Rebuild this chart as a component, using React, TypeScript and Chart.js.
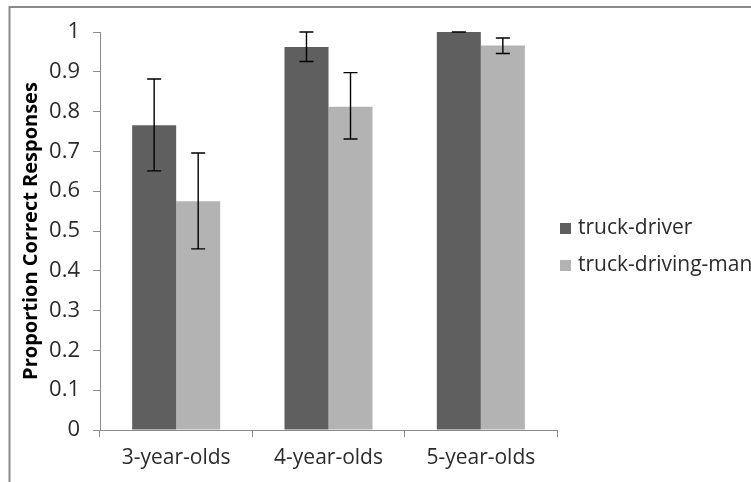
import React, { useEffect, useRef } from "react";
import { Chart, registerables } from "chart.js";

Chart.register(...registerables);

const categories = ["3-year-olds", "4-year-olds", "5-year-olds"];
const seriesNames = ["truck-driver", "truck-driving-man"];
const driverValues = [0.766, 0.962, 1.0];
const driverLow = [0.651, 0.926, 1.0];
const driverHigh = [0.882, 1.0, 1.0];
const manValues = [0.575, 0.812, 0.966];
const manLow = [0.455, 0.731, 0.946];
const manHigh = [0.696, 0.898, 0.985];
const yTicks = [0, 0.1, 0.2, 0.3, 0.4, 0.5, 0.6, 0.7, 0.8, 0.9, 1];

const FONT = "'Open Sans', sans-serif";
const TEXT = "#2b2b2b";
const AXIS = "#8c8c8c";

const errorBars = {
  id: "errorBars",
  afterDatasetsDraw(chart: any) {
    const ctx = chart.ctx;
    const y = chart.scales.y;
    ctx.save();
    ctx.strokeStyle = "#000000";
    ctx.lineWidth = 1.4;
    chart.data.datasets.forEach((ds: any, di: number) => {
      const meta = chart.getDatasetMeta(di);
      meta.data.forEach((bar: any, i: number) => {
        const x = bar.x;
        const yl = y.getPixelForValue(ds.errLow[i]);
        const yh = y.getPixelForValue(ds.errHigh[i]);
        const cap = 7;
        ctx.beginPath();
        ctx.moveTo(x, yl);
        ctx.lineTo(x, yh);
        ctx.moveTo(x - cap, yl);
        ctx.lineTo(x + cap, yl);
        ctx.moveTo(x - cap, yh);
        ctx.lineTo(x + cap, yh);
        ctx.stroke();
      });
    });
    ctx.restore();
  },
};

const frameAndLegend = {
  id: "frameAndLegend",
  beforeDraw(chart: any) {
    const ctx = chart.ctx;
    ctx.save();
    ctx.fillStyle = "#ffffff";
    ctx.fillRect(0, 0, chart.width, chart.height);
    ctx.strokeStyle = "#8a8a8a";
    ctx.lineWidth = 2;
    ctx.beginPath();
    ctx.moveTo(9.5, chart.height);
    ctx.lineTo(9.5, 7);
    ctx.lineTo(chart.width, 7);
    ctx.stroke();
    ctx.restore();
  },
  afterDraw(chart: any) {
    const ctx = chart.ctx;
    ctx.save();
    const startY = 228;
    const gap = 37;
    chart.data.datasets.forEach((ds: any, i: number) => {
      const cy = startY + i * gap;
      ctx.fillStyle = ds.backgroundColor;
      ctx.fillRect(560, cy - 5, 11, 11);
      ctx.fillStyle = TEXT;
      ctx.font = `21px ${FONT}`;
      ctx.textBaseline = "middle";
      ctx.textAlign = "left";
      ctx.fillText(ds.label, 578, cy);
    });
    ctx.restore();
  },
};

export default function App() {
  const ref = useRef<HTMLCanvasElement>(null);
  useEffect(() => {
    if (!ref.current) return;
    const chart = new Chart(ref.current, {
      type: "bar",
      data: {
        labels: categories,
        datasets: [
          {
            label: seriesNames[0],
            data: driverValues,
            backgroundColor: "#5f5f5f",
            errLow: driverLow,
            errHigh: driverHigh,
          } as any,
          {
            label: seriesNames[1],
            data: manValues,
            backgroundColor: "#b3b3b3",
            errLow: manLow,
            errHigh: manHigh,
          } as any,
        ],
      },
      options: {
        animation: false,
        responsive: false,
        maintainAspectRatio: false,
        layout: { padding: { left: 0, top: 32, right: 194, bottom: 0 } },
        datasets: { bar: { categoryPercentage: 0.578, barPercentage: 1 } },
        plugins: {
          legend: { display: false },
          tooltip: { enabled: false },
        },
        scales: {
          x: {
            afterFit: (s: any) => {
              s.height = 52;
            },
            grid: {
              display: true,
              drawOnChartArea: false,
              drawTicks: true,
              tickLength: 7,
              color: AXIS,
              offset: true,
            },
            border: { display: true, color: AXIS, width: 1 },
            ticks: {
              color: TEXT,
              font: { family: FONT, size: 21 },
              padding: 8,
              maxRotation: 0,
            },
          },
          y: {
            min: 0,
            max: 1,
            afterFit: (s: any) => {
              s.width = 100;
            },
            afterBuildTicks: (s: any) => {
              s.ticks = yTicks.map((v) => ({ value: v }));
            },
            grid: {
              display: true,
              drawOnChartArea: false,
              drawTicks: true,
              tickLength: 7,
              color: AXIS,
            },
            border: { display: true, color: AXIS, width: 1 },
            ticks: {
              color: TEXT,
              font: { family: FONT, size: 22 },
              padding: 13,
              callback: (v: any) => String(Math.round(Number(v) * 10) / 10),
            },
            title: {
              display: true,
              text: "Proportion Correct Responses",
              color: "#000000",
              font: { family: FONT, size: 20, weight: "bold" },
              padding: { top: 19, bottom: 0 },
            },
          },
        },
      },
      plugins: [errorBars, frameAndLegend],
    });
    return () => chart.destroy();
  }, []);
  return (
    <div style={{ position: "fixed", left: 0, top: 0, width: 751, height: 482, background: "#fff" }}>
      <canvas ref={ref} width={751} height={482} style={{ display: "block", width: 751, height: 482 }} />
    </div>
  );
}
